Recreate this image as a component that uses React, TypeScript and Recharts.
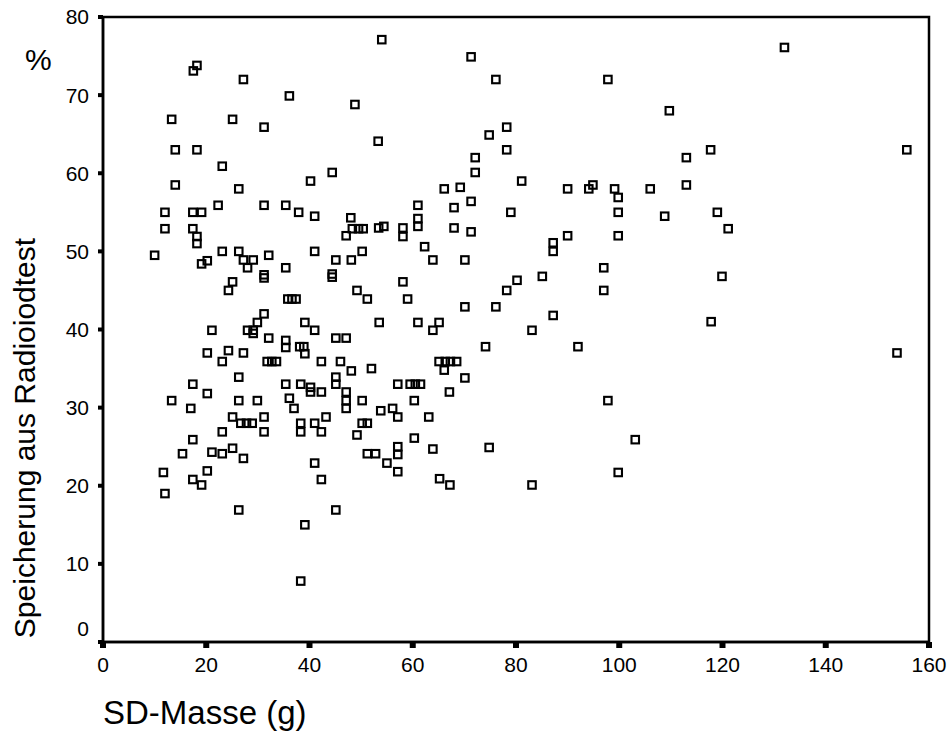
import { ScatterChart, Scatter, XAxis, YAxis, ReferenceArea, Label } from "recharts";

// SD-Masse (g) per patient
const sdMasse = [
	18.2, 17.5, 27.2, 36.1, 48.8, 54.0, 13.3, 25.1, 31.2, 53.3,
	14.0, 18.2, 23.1, 44.4, 40.2, 14.0, 26.3, 12.0, 17.4, 19.1,
	22.3, 31.2, 35.4, 37.9, 41.0, 48.0, 12.0, 17.4, 48.3, 49.5,
	50.4, 53.4, 54.4, 47.1, 18.2, 18.2, 10.0, 20.2, 19.1, 23.1,
	26.3, 27.2, 28.0, 29.1, 32.1, 35.4, 41.0, 45.1, 48.1, 50.2,
	31.2, 31.2, 44.4, 44.4, 25.1, 24.3, 49.2, 51.2, 35.8, 36.6,
	37.4, 53.5, 31.2, 29.9, 29.1, 28.0, 29.1, 21.1, 32.1, 39.1,
	41.0, 35.4, 35.4, 38.1, 38.9, 39.1, 45.1, 47.1, 20.2, 24.3,
	23.1, 27.2, 31.8, 32.7, 33.6, 42.3, 46.0, 48.1, 52.0, 45.1,
	45.1, 26.3, 17.4, 35.4, 38.3, 40.2, 40.2, 42.3, 20.2, 13.3,
	26.3, 29.9, 36.1, 37.0, 47.1, 47.1, 47.1, 50.2, 53.8, 17.0,
	25.1, 26.7, 27.8, 28.9, 31.2, 31.2, 23.1, 38.3, 38.3, 41.0,
	42.3, 43.2, 49.2, 50.2, 51.2, 17.4, 15.4, 21.1, 23.1, 25.1,
	27.2, 11.7, 20.2, 17.4, 19.1, 12.0, 26.3, 41.0, 42.3, 45.1,
	39.1, 38.3, 51.2, 52.8, 71.3, 76.1, 97.8, 109.7, 78.2, 74.8,
	78.2, 72.1, 72.1, 81.1, 66.1, 69.2, 90.0, 94.1, 94.9, 99.1,
	99.8, 106.0, 108.8, 71.3, 61.0, 68.0, 79.0, 99.8, 61.0, 61.0,
	68.0, 71.3, 58.1, 90.0, 99.8, 58.1, 62.3, 63.9, 70.1, 87.2,
	87.2, 97.0, 97.0, 85.1, 80.2, 78.2, 58.1, 59.0, 70.1, 76.1,
	87.2, 83.1, 61.0, 65.1, 63.9, 74.1, 92.0, 65.1, 66.3, 67.3,
	68.5, 66.1, 70.1, 57.1, 59.5, 60.5, 61.5, 67.1, 60.3, 56.1,
	57.1, 63.1, 97.8, 60.3, 103.1, 57.1, 63.9, 74.8, 57.1, 55.0,
	57.1, 65.2, 67.2, 83.1, 99.8, 132.0, 117.7, 155.7, 113.0, 113.0,
	119.0, 121.1, 119.9, 117.8, 153.8,
];

// Speicherung aus Radioiodtest (%) per patient
const speicherung = [
	73.8, 73.1, 72.0, 69.9, 68.8, 77.1, 66.9, 66.9, 65.9, 64.1,
	63.0, 63.0, 60.9, 60.1, 59.0, 58.5, 58.0, 55.0, 55.0, 55.0,
	55.9, 55.9, 55.9, 55.0, 54.5, 54.3, 52.9, 52.9, 52.9, 52.9,
	52.9, 53.0, 53.2, 52.0, 51.9, 51.0, 49.5, 48.8, 48.4, 50.0,
	50.0, 48.9, 47.9, 48.9, 49.5, 47.9, 50.0, 48.9, 48.9, 50.0,
	47.0, 46.6, 47.1, 46.7, 46.1, 45.0, 45.0, 43.9, 43.9, 43.9,
	43.9, 40.9, 42.0, 40.9, 39.9, 39.9, 39.5, 39.9, 38.9, 40.9,
	39.9, 38.6, 37.7, 37.8, 37.8, 36.9, 38.9, 38.9, 37.0, 37.3,
	35.9, 37.0, 35.9, 35.9, 35.9, 35.9, 35.9, 34.7, 35.0, 33.9,
	33.0, 33.9, 33.0, 33.0, 33.0, 32.6, 32.0, 32.0, 31.8, 30.9,
	30.9, 30.9, 31.2, 29.9, 32.0, 30.9, 29.9, 30.9, 29.6, 29.9,
	28.8, 28.0, 28.0, 28.0, 28.8, 26.9, 26.9, 28.0, 26.9, 28.0,
	26.9, 28.8, 26.5, 28.0, 28.0, 25.9, 24.1, 24.3, 24.1, 24.8,
	23.5, 21.7, 21.9, 20.8, 20.1, 19.0, 16.9, 22.9, 20.8, 16.9,
	15.0, 7.8, 24.1, 24.1, 74.9, 72.0, 72.0, 68.0, 65.9, 64.9,
	63.0, 62.0, 60.1, 59.0, 58.0, 58.2, 58.0, 58.0, 58.5, 58.0,
	56.9, 58.0, 54.5, 56.4, 55.9, 55.6, 55.0, 55.0, 54.2, 53.2,
	53.0, 52.5, 53.0, 52.0, 52.0, 51.9, 50.6, 48.9, 48.9, 51.1,
	50.0, 47.9, 45.0, 46.8, 46.3, 45.0, 46.1, 43.9, 42.9, 42.9,
	41.8, 39.9, 40.9, 40.9, 39.9, 37.8, 37.8, 35.9, 35.9, 35.9,
	35.9, 34.8, 33.8, 33.0, 33.0, 33.0, 33.0, 32.0, 30.9, 29.9,
	28.8, 28.8, 30.9, 26.1, 25.9, 25.0, 24.7, 24.9, 24.0, 22.9,
	21.8, 20.9, 20.1, 20.1, 21.7, 76.1, 63.0, 63.0, 62.0, 58.5,
	55.0, 52.9, 46.8, 41.0, 37.0,
];

const xTicks = [0, 20, 40, 60, 80, 100, 120, 140, 160];
const yTicks = [0, 10, 20, 30, 40, 50, 60, 70, 80];

const points = sdMasse.map((x, i) => ({ x, y: speicherung[i] }));

const FONT = '"Liberation Sans", Arial, sans-serif';

const SquareMarker = (props: any) => {
	const { cx, cy } = props;
	return (
		<rect
			x={cx - 3.75}
			y={cy - 3.75}
			width={7.5}
			height={7.5}
			fill="none"
			stroke="#000"
			strokeWidth={2.1}
		/>
	);
};

// the "0" label sits a little above the corner so it clears the x axis
const YTick = (props: any) => {
	const { x, y, payload } = props;
	return (
		<text
			x={x}
			y={payload.value === 0 ? y - 13 : y}
			dy="0.355em"
			textAnchor="end"
			fontSize={21}
			fontFamily={FONT}
			fill="#000"
		>
			{payload.value}
		</text>
	);
};

export default function App() {
	return (
		<div
			style={{
				position: "absolute",
				left: 0,
				top: 0,
				width: 952,
				height: 733,
				background: "#fff",
			}}
		>
			<ScatterChart
				width={952}
				height={733}
				margin={{ top: 17, right: 23, bottom: 51, left: 0 }}
			>
				<XAxis
					type="number"
					dataKey="x"
					domain={[0, 160]}
					ticks={xTicks}
					interval={0}
					height={40}
					axisLine={{ stroke: "#000", strokeWidth: 2.5 }}
					tickLine={{ stroke: "#000", strokeWidth: 6 }}
					tickSize={6}
					tickMargin={9}
					tick={{ fill: "#000", fontSize: 21, fontFamily: FONT }}
				>
					<Label
						content={() => (
							<text x={103} y={724} fontSize={33} fontFamily={FONT} fill="#000">
								SD-Masse (g)
							</text>
						)}
					/>
				</XAxis>
				<YAxis
					type="number"
					dataKey="y"
					domain={[0, 80]}
					ticks={yTicks}
					interval={0}
					width={103}
					axisLine={{ stroke: "#000", strokeWidth: 2.5 }}
					tickLine={{ stroke: "#000", strokeWidth: 4 }}
					tickSize={5}
					tickMargin={9}
					tick={<YTick />}
				>
					<Label
						content={() => (
							<g>
								<text x={25} y={70} fontSize={30} fontFamily={FONT} fill="#000">
									%
								</text>
								<text
									x={35}
									y={438}
									fontSize={30}
									fontFamily={FONT}
									fill="#000"
									textAnchor="middle"
									transform="rotate(-90, 35, 438)"
								>
									Speicherung aus Radioiodtest
								</text>
							</g>
						)}
					/>
				</YAxis>
				<ReferenceArea
					x1={0}
					x2={160}
					y1={0}
					y2={80}
					fill="none"
					stroke="#000"
					strokeWidth={2.5}
				/>
				<Scatter data={points} shape={SquareMarker} isAnimationActive={false} />
			</ScatterChart>
		</div>
	);
}
